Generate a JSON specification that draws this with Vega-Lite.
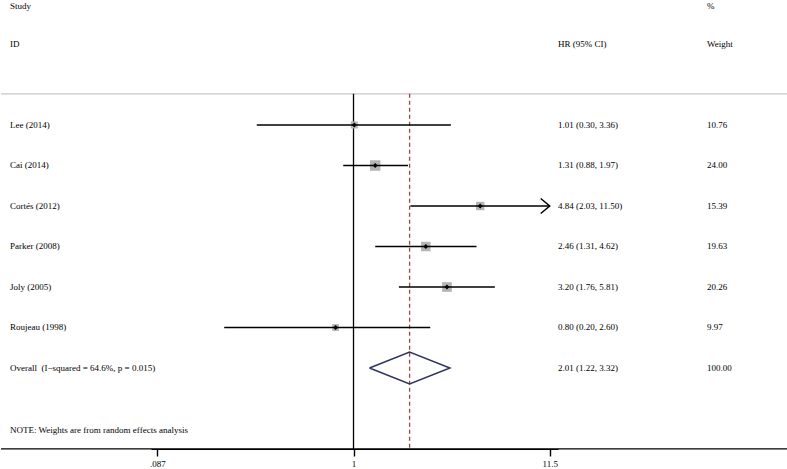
{
  "$schema": "https://vega.github.io/schema/vega-lite/v6.json",
  "padding": 0,
  "spacing": 0,
  "bounds": "flush",
  "config": {
    "view": {"stroke": null},
    "text": {"font": "Liberation Serif", "fontSize": 9, "color": "black"},
    "axis": {"grid": false, "domain": true, "domainColor": "black", "domainWidth": 1.2, "ticks": true, "tickColor": "black", "tickSize": 7, "tickWidth": 1.4, "labelFont": "Liberation Serif", "labelFontSize": 9, "labelColor": "black", "labelPadding": 3, "labelFlush": false, "labelOverlap": false}
  },
  "datasets": {
    "studies": [
      {"study": "Lee (2014)", "kind": "study", "hr": 1.01, "lo": 0.30, "hi": 3.36, "weight": 10.76, "ci": "1.01 (0.30, 3.36)", "row": 1},
      {"study": "Cai (2014)", "kind": "study", "hr": 1.31, "lo": 0.88, "hi": 1.97, "weight": 24.00, "ci": "1.31 (0.88, 1.97)", "row": 2},
      {"study": "Cortés (2012)", "kind": "study", "hr": 4.84, "lo": 2.03, "hi": 11.50, "weight": 15.39, "ci": "4.84 (2.03, 11.50)", "row": 3},
      {"study": "Parker (2008)", "kind": "study", "hr": 2.46, "lo": 1.31, "hi": 4.62, "weight": 19.63, "ci": "2.46 (1.31, 4.62)", "row": 4},
      {"study": "Joly (2005)", "kind": "study", "hr": 3.20, "lo": 1.76, "hi": 5.81, "weight": 20.26, "ci": "3.20 (1.76, 5.81)", "row": 5},
      {"study": "Roujeau (1998)", "kind": "study", "hr": 0.80, "lo": 0.20, "hi": 2.60, "weight": 9.97, "ci": "0.80 (0.20, 2.60)", "row": 6},
      {"study": "Overall\u00a0 (I−squared = 64.6%, p = 0.015)", "kind": "overall", "hr": 2.01, "lo": 1.22, "hi": 3.32, "weight": 100.00, "ci": "2.01 (1.22, 3.32)", "row": 7}
    ],
    "headers": [
      {"text": "Study", "col": "label", "row": -1.95},
      {"text": "ID", "col": "label", "row": -1},
      {"text": "NOTE: Weights are from random effects analysis", "col": "label", "row": 8.53},
      {"text": "HR (95% CI)", "col": "ci", "row": -1},
      {"text": "%", "col": "weight", "row": -1.95},
      {"text": "Weight", "col": "weight", "row": -1}
    ],
    "lines": [
      {"name": "top", "row": 0.23},
      {"name": "axis", "row": 8.995}
    ],
    "diamond": [
      {"hr": 1.22, "row": 7, "o": 0},
      {"hr": 2.01, "row": 6.605, "o": 1},
      {"hr": 3.32, "row": 7, "o": 2},
      {"hr": 2.01, "row": 7.395, "o": 3},
      {"hr": 1.22, "row": 7, "o": 4}
    ]
  },
  "hconcat": [
    {
      "width": 150,
      "height": 449,
      "layer": [
        {"data": {"name": "lines"}, "mark": {"type": "rule", "strokeWidth": 1.3}, "encoding": {
          "y": {"field": "row", "type": "quantitative", "scale": {"domain": [-2.0864, 9], "reverse": true, "nice": false, "zero": false}, "axis": null},
          "color": {"field": "name", "type": "nominal", "scale": {"domain": ["top", "axis"], "range": ["#c8c8c8", "black"]}, "legend": null}}},
        {"data": {"name": "headers"}, "transform": [{"filter": "datum.col == 'label'"}], "mark": {"type": "text", "align": "left", "baseline": "middle", "dx": 9}, "encoding": {"x": {"value": 0}, "y": {"field": "row", "type": "quantitative"}, "text": {"field": "text"}}},
        {"data": {"name": "studies"}, "mark": {"type": "text", "align": "left", "baseline": "middle", "dx": 9}, "encoding": {"x": {"value": 0}, "y": {"field": "row", "type": "quantitative"}, "text": {"field": "study"}}}
      ]
    },
    {
      "width": 407,
      "height": 449,
      "layer": [
        {"data": {"name": "lines"}, "mark": {"type": "rule", "strokeWidth": 1.3}, "encoding": {
          "y": {"field": "row", "type": "quantitative", "scale": {"domain": [-2.0864, 9], "reverse": true, "nice": false, "zero": false}, "axis": null},
          "color": {"field": "name", "type": "nominal", "scale": {"domain": ["top", "axis"], "range": ["#c8c8c8", "black"]}, "legend": null}}},
        {"data": {"values": [{}]}, "mark": {"type": "rule", "color": "black", "strokeWidth": 1.3}, "encoding": {
          "x": {"datum": 1, "type": "quantitative", "scale": {"type": "log", "domain": [0.0804, 12.749], "nice": false}, "axis": {"values": [0.087, 1, 11.5], "title": null, "labelExpr": "datum.value < 1 ? substring(format(datum.value, ''), 1) : format(datum.value, '')"}},
          "y": {"datum": 0.23, "type": "quantitative"}, "y2": {"datum": 9}}},
        {"data": {"name": "studies"}, "transform": [{"filter": "datum.kind == 'overall'"}], "mark": {"type": "rule", "color": "#a04446", "strokeWidth": 1.3, "strokeDash": [4, 3]}, "encoding": {
          "x": {"field": "hr", "type": "quantitative", "title": null},
          "y": {"datum": 0.23, "type": "quantitative"}, "y2": {"datum": 9}}},
        {"data": {"name": "studies"}, "transform": [{"filter": "datum.kind == 'study'"}], "mark": {"type": "point", "shape": "square", "filled": true, "color": "#b4b4b4", "opacity": 1, "strokeWidth": 0}, "encoding": {
          "x": {"field": "hr", "type": "quantitative", "title": null},
          "y": {"field": "row", "type": "quantitative"},
          "size": {"field": "weight", "type": "quantitative", "scale": {"domain": [0, 24], "range": [0, 110]}, "legend": null}}},
        {"data": {"name": "studies"}, "transform": [{"filter": "datum.kind == 'study'"}], "mark": {"type": "rule", "color": "black", "strokeWidth": 1.5}, "encoding": {
          "x": {"field": "lo", "type": "quantitative", "title": null}, "x2": {"field": "hi"},
          "y": {"field": "row", "type": "quantitative"}}},
        {"data": {"name": "studies"}, "transform": [{"filter": "datum.kind == 'study'"}], "mark": {"type": "point", "shape": "diamond", "filled": true, "color": "black", "opacity": 1, "size": 24}, "encoding": {
          "x": {"field": "hr", "type": "quantitative", "title": null},
          "y": {"field": "row", "type": "quantitative"}}},
        {"data": {"name": "studies"}, "transform": [{"filter": "datum.kind == 'study' && datum.hi >= 11.5"}], "mark": {"type": "point", "shape": "M-1,-0.83L0,0L-1,0.83", "filled": false, "stroke": "black", "strokeWidth": 1.5, "opacity": 1, "size": 324}, "encoding": {
          "x": {"field": "hi", "type": "quantitative", "title": null},
          "y": {"field": "row", "type": "quantitative"}}},
        {"data": {"name": "diamond"}, "mark": {"type": "line", "color": "#2e3366", "strokeWidth": 1.5}, "encoding": {
          "x": {"field": "hr", "type": "quantitative", "title": null},
          "y": {"field": "row", "type": "quantitative"},
          "order": {"field": "o", "type": "quantitative"}}}
      ]
    },
    {
      "width": 149,
      "height": 449,
      "layer": [
        {"data": {"name": "lines"}, "mark": {"type": "rule", "strokeWidth": 1.3}, "encoding": {
          "y": {"field": "row", "type": "quantitative", "scale": {"domain": [-2.0864, 9], "reverse": true, "nice": false, "zero": false}, "axis": null},
          "color": {"field": "name", "type": "nominal", "scale": {"domain": ["top", "axis"], "range": ["#c8c8c8", "black"]}, "legend": null}}},
        {"data": {"name": "headers"}, "transform": [{"filter": "datum.col == 'ci'"}], "mark": {"type": "text", "align": "left", "baseline": "middle"}, "encoding": {"x": {"value": 0}, "y": {"field": "row", "type": "quantitative"}, "text": {"field": "text"}}},
        {"data": {"name": "studies"}, "mark": {"type": "text", "align": "left", "baseline": "middle"}, "encoding": {"x": {"value": 0}, "y": {"field": "row", "type": "quantitative"}, "text": {"field": "ci"}}}
      ]
    },
    {
      "width": 81,
      "height": 449,
      "layer": [
        {"data": {"name": "lines"}, "mark": {"type": "rule", "strokeWidth": 1.3}, "encoding": {
          "y": {"field": "row", "type": "quantitative", "scale": {"domain": [-2.0864, 9], "reverse": true, "nice": false, "zero": false}, "axis": null},
          "color": {"field": "name", "type": "nominal", "scale": {"domain": ["top", "axis"], "range": ["#c8c8c8", "black"]}, "legend": null}}},
        {"data": {"name": "headers"}, "transform": [{"filter": "datum.col == 'weight'"}], "mark": {"type": "text", "align": "left", "baseline": "middle"}, "encoding": {"x": {"value": 0}, "y": {"field": "row", "type": "quantitative"}, "text": {"field": "text"}}},
        {"data": {"name": "studies"}, "mark": {"type": "text", "align": "left", "baseline": "middle"}, "encoding": {"x": {"value": 0}, "y": {"field": "row", "type": "quantitative"}, "text": {"field": "weight", "type": "quantitative", "format": ".2f"}}}
      ]
    }
  ]
}
